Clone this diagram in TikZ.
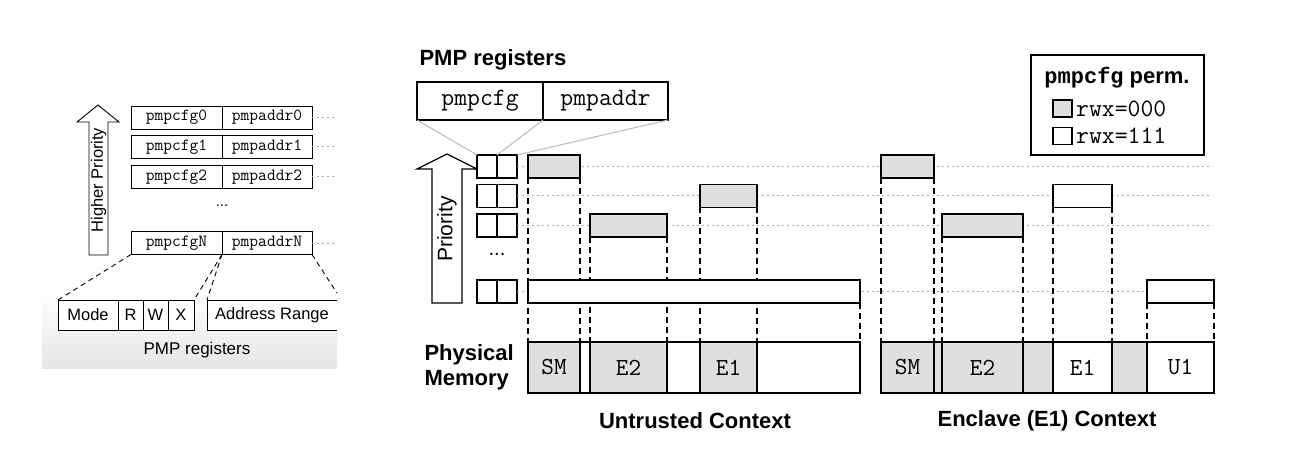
\documentclass[tikz,border=0pt]{standalone}
\usepackage{fontspec}
\setmainfont{Liberation Sans}
\setsansfont{Liberation Sans}
\newfontfamily\heavymono[BoldFont={Liberation Mono Bold}]{Liberation Mono}
\usepackage{xcolor}
\usepackage{tikz}
\usetikzlibrary{arrows}

\begin{document}
\begin{tikzpicture}[x=1pt,y=-1pt,
    box/.style={rectangle, draw, fill=white, line width=1.3pt,
                inner sep=0pt, outer sep=0pt},
    oldreg/.style={box, line width=0.9pt, minimum height=23pt,
                   font=\fontsize{17}{19}\selectfont\ttfamily},
    bit/.style={box, line width=0.9pt, minimum height=30pt,
                font=\fontsize{16.5}{19}\selectfont},
    reg/.style={box, minimum width=20pt, minimum height=23pt},
    bar/.style={box, minimum height=23pt},
    mem/.style={box, minimum height=51pt,
                font=\fontsize{24.5}{27}\selectfont\ttfamily},
    off/.style={fill=gray!25},
    swatch/.style={box, minimum width=19pt, minimum height=17pt},
    zoomline/.style={gray!55, line width=1pt},
    rowline/.style={gray!65, line width=1pt, dash pattern=on 2pt off 3pt},
    drop/.style={line width=1.3pt, dash pattern=on 6pt off 4pt},
    olddrop/.style={line width=0.9pt, dash pattern=on 5pt off 4pt},
    title/.style={font=\fontsize{22}{25}\selectfont\bfseries}
    ]

    \useasboundingbox (0,0) rectangle (1314,473);

    % ---- left: original PMP layout ----
    \shade[top color=white, bottom color=gray!20] (42,292) rectangle (337,368);
    \node[font=\fontsize{17}{20}\selectfont] (oldname) at (197,350) {PMP registers};

    \draw[fill=white, line width=0.9pt]
        (89,255) -- (89,122) -- (77,122) -- (98,105) -- (119,122)
        -- (108,122) -- (108,255) -- cycle;
    \node[rotate=90, font=\fontsize{16.5}{19}\selectfont] (higher) at (98.5,180) {Higher Priority};

    \node[oldreg, minimum width=91pt] (cfg0) at (176.5,117.5) {pmpcfg0};
    \node[oldreg, minimum width=90pt] (addr0) at (267,117.5) {pmpaddr0};
    \node[oldreg, minimum width=91pt] (cfg1) at (176.5,147) {pmpcfg1};
    \node[oldreg, minimum width=90pt] (addr1) at (267,147) {pmpaddr1};
    \node[oldreg, minimum width=91pt] (cfg2) at (176.5,177) {pmpcfg2};
    \node[oldreg, minimum width=90pt] (addr2) at (267,177) {pmpaddr2};
    \node[font=\fontsize{15}{17}\selectfont] (olddots) at (222,206) {...};
    \node[oldreg, minimum width=91pt] (cfgN) at (176.5,243) {pmpcfgN};
    \node[oldreg, minimum width=90pt] (addrN) at (267,243) {pmpaddrN};

    \coordinate (oldend0) at (337,117.5);
    \coordinate (oldend1) at (337,147);
    \coordinate (oldend2) at (337,177);
    \coordinate (oldendN) at (337,243);
    \draw[rowline] (addr0.east) -- (oldend0);
    \draw[rowline] (addr1.east) -- (oldend1);
    \draw[rowline] (addr2.east) -- (oldend2);
    \draw[rowline] (addrN.east) -- (oldendN);

    \node[bit, minimum width=60pt] (mode) at (88,315) {Mode};
    \node[bit, minimum width=25pt] (rbit) at (130.5,315) {R};
    \node[bit, minimum width=25pt] (wbit) at (155.5,315) {W};
    \node[bit, minimum width=26pt] (xbit) at (181,315) {X};
    \node[bit, draw=none, minimum width=130pt] (range) at (272,315) {Address Range};
    \draw[line width=0.9pt] (range.north east) -- (range.north west)
        -- (range.south west) -- (range.south east);

    \coordinate (cut) at (337,293);
    \draw[olddrop] (cfgN.south west) -- (mode.north west);
    \draw[olddrop] (cfgN.south east) -- (xbit.north east);
    \draw[olddrop] (cfgN.south east) -- (range.north west);
    \draw[olddrop] (addrN.south east) -- (cut);

    % ---- right: registers ----
    \node[title, anchor=west] (pmpname) at (416,60) {PMP registers};

    \node[box, minimum width=126pt, minimum height=38pt] (bigcfg) at (480,101) {};
    \node[] at (bigcfg.center) {\fontsize{25}{27}\selectfont\ttfamily pmpcfg};
    \node[box, minimum width=125pt, minimum height=38pt] (bigaddr) at (605.5,101) {};
    \node[] at (bigaddr.center) {\fontsize{25}{27}\selectfont\ttfamily pmpaddr};

    \draw[fill=white, line width=1.3pt]
        (432,303) -- (432,169) -- (417,169) -- (447,154) -- (477,169)
        -- (462,169) -- (462,303) -- cycle;
    \node[rotate=90, font=\fontsize{21}{24}\selectfont] (prio) at (447,229) {Priority};

    \node[reg] (s1a) at (487,166.5) {};
    \node[reg] (s1b) at (507,166.5) {};
    \node[reg] (s2a) at (487,196) {};
    \node[reg] (s2b) at (507,196) {};
    \node[reg] (s3a) at (487,225.5) {};
    \node[reg] (s3b) at (507,225.5) {};
    \node[font=\fontsize{20}{22}\selectfont] (dots) at (497,254) {...};
    \node[reg] (sNa) at (487,291.5) {};
    \node[reg] (sNb) at (507,291.5) {};

    \draw[zoomline] (bigcfg.south west) -- (s1a.north west);
    \draw[zoomline] (bigcfg.south east) -- (s1a.north east);
    \draw[zoomline] (bigaddr.south east) -- (s1b.north east);

    \coordinate (end1) at (1212,166.5);
    \coordinate (end2) at (1212,196);
    \coordinate (end3) at (1212,225.5);
    \coordinate (endN) at (1212,291.5);
    \draw[rowline] (s1b.east) -- (end1);
    \draw[rowline] (s2b.east) -- (end2);
    \draw[rowline] (s3b.east) -- (end3);
    \draw[rowline] (sNb.east) -- (endN);

    % ---- physical memory ----
    \node[title, align=left, anchor=west] (physname) at (421,367.5) {Physical\\Memory};

    \node[mem, off, minimum width=52pt] (um1) at (554,367.5) {SM};
    \node[mem, minimum width=10pt] (um2) at (585,367.5) {};
    \node[mem, off, minimum width=77pt] (um3) at (628.5,367.5) {E2};
    \node[mem, minimum width=33pt] (um4) at (683.5,367.5) {};
    \node[mem, off, minimum width=57pt] (um5) at (728.5,367.5) {E1};
    \node[mem, minimum width=103pt] (um6) at (808.5,367.5) {};

    \node[mem, off, minimum width=53pt] (em1) at (907.5,367.5) {SM};
    \node[mem, off, minimum width=8pt] (em2) at (938,367.5) {};
    \node[mem, off, minimum width=81pt] (em3) at (982.5,367.5) {E2};
    \node[mem, off, minimum width=30pt] (em4) at (1038,367.5) {};
    \node[mem, minimum width=59pt] (em5) at (1082.5,367.5) {E1};
    \node[mem, off, minimum width=35pt] (em6) at (1129.5,367.5) {};
    \node[mem, minimum width=67pt] (em7) at (1180.5,367.5) {U1};

    % ---- untrusted context ----
    \coordinate (u1sw) at (528,178);
    \coordinate (u1se) at (580,178);
    \coordinate (u3sw) at (590,237);
    \coordinate (u3se) at (667,237);
    \coordinate (u2sw) at (700,207.5);
    \coordinate (u2se) at (757,207.5);
    \coordinate (uNse) at (860,303);
    \draw[drop] (u1sw) -- (um1.north west);
    \draw[drop] (u1se) -- (um1.north east);
    \draw[drop] (u3sw) -- (um3.north west);
    \draw[drop] (u3se) -- (um3.north east);
    \draw[drop] (u2sw) -- (um5.north west);
    \draw[drop] (u2se) -- (um5.north east);
    \draw[drop] (uNse) -- (um6.north east);

    \node[bar, off, minimum width=52pt] (u1) at (554,166.5) {};
    \node[bar, off, minimum width=57pt] (u2) at (728.5,196) {};
    \node[bar, off, minimum width=77pt] (u3) at (628.5,225.5) {};
    \node[bar, minimum width=332pt] (uN) at (694,291.5) {};

    % ---- enclave context ----
    \coordinate (e1sw) at (881,178);
    \coordinate (e1se) at (934,178);
    \coordinate (e3sw) at (942,237);
    \coordinate (e3se) at (1023,237);
    \coordinate (e2sw) at (1053,207.5);
    \coordinate (e2se) at (1112,207.5);
    \coordinate (eNsw) at (1147,303);
    \coordinate (eNse) at (1214,303);
    \draw[drop] (e1sw) -- (em1.north west);
    \draw[drop] (e1se) -- (em1.north east);
    \draw[drop] (e3sw) -- (em3.north west);
    \draw[drop] (e3se) -- (em3.north east);
    \draw[drop] (e2sw) -- (em5.north west);
    \draw[drop] (e2se) -- (em5.north east);
    \draw[drop] (eNsw) -- (em7.north west);
    \draw[drop] (eNse) -- (em7.north east);

    \node[bar, off, minimum width=53pt] (e1) at (907.5,166.5) {};
    \node[bar, minimum width=59pt] (e2) at (1082.5,196) {};
    \node[bar, off, minimum width=81pt] (e3) at (982.5,225.5) {};
    \node[bar, minimum width=67pt] (eN) at (1180.5,291.5) {};

    \node[title] (untrusted) at (695,421) {Untrusted Context};
    \node[title] (enclave) at (1047,421) {Enclave (E1) Context};

    % ---- legend ----
    \node[box, minimum width=173pt, minimum height=100pt] (legend) at (1117.5,105) {};
    \node[title] (legtitle) at (1117,78) {{\heavymono\bfseries pmpcfg}\hspace{6pt}perm.};
    \node[swatch, off] (sw0) at (1062.5,108.5) {};
    \node[swatch] (sw1) at (1062.5,136) {};
    \node[anchor=west, inner sep=4pt, font=\fontsize{25}{27}\selectfont\ttfamily] at (sw0.east) {rwx=000};
    \node[anchor=west, inner sep=4pt, font=\fontsize{25}{27}\selectfont\ttfamily] at (sw1.east) {rwx=111};

\end{tikzpicture}
\end{document}
